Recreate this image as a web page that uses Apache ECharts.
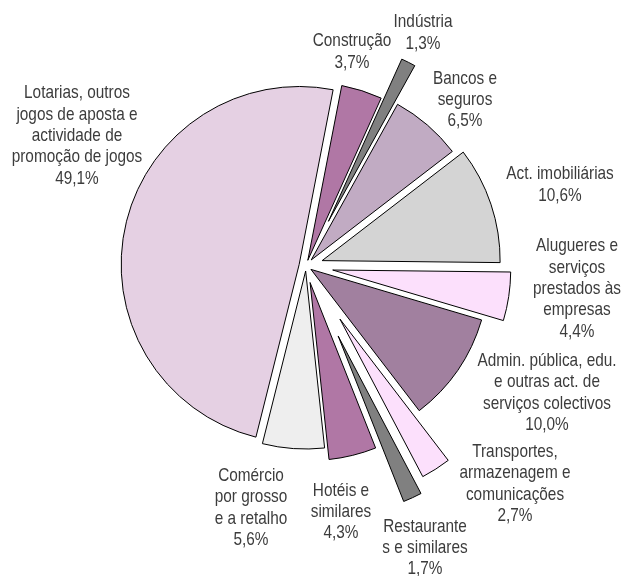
<!DOCTYPE html>
<html><head><meta charset="utf-8">
<script src="https://cdn.jsdelivr.net/npm/echarts@6/dist/echarts.min.js"></script>
<style>html,body{margin:0;padding:0;background:#fff}#c{width:622px;height:576px}</style>
</head><body><div id="c"></div>
<script>
const categories = ['Construção','Indústria','Bancos e\nseguros','Act. imobiliárias',
  'Alugueres e\nserviços\nprestados às\nempresas',
  'Admin. pública, edu.\ne outras act. de\nserviços colectivos',
  'Transportes,\narmazenagem e\ncomunicações','Restaurante\ns e similares',
  'Hotéis e\nsimilares','Comércio\npor grosso\ne a retalho',
  'Lotarias, outros\njogos de aposta e\nactividade de\npromoção de jogos'];
const values = [3.7, 1.3, 6.5, 10.6, 4.4, 10.0, 2.7, 1.7, 4.3, 5.6, 49.1];
const colors = ['#B077A5','#808080','#C1ABC3','#D4D4D4','#FCE0FC','#A1809F','#FCE0FC','#808080','#B077A5','#EEEEEE','#E5D0E3'];
const explode = [6, 50, 8, 17, 27, 6, 63, 77, 17, 5, 7];
const labelPos = [[352,52],[423,33],[465,100],[560,185],[577,289],[547,393],[515,484],[425,548],[341,512],[251,508],[77,136]];

const fmt = v => v.toFixed(1).replace('.', ',') + '%';

const series = categories.map((cat, i) => ({
  type: 'pie',
  center: [306, 266],
  radius: 178,
  startAngle: 79,
  clockwise: true,
  selectedMode: 'multiple',
  selectedOffset: explode[i],
  animation: false,
  avoidLabelOverlap: false,
  label: { show: false },
  labelLine: { show: false },
  emphasis: { disabled: true },
  data: categories.map((n, j) => ({
    name: n,
    value: values[j],
    selected: j === i,
    itemStyle: j === i ? { color: colors[j], borderColor: '#000', borderWidth: 1 } : { color: 'rgba(0,0,0,0)', borderWidth: 0 },
    select: { itemStyle: j === i ? { color: colors[j], borderColor: '#000', borderWidth: 1 } : { color: 'rgba(0,0,0,0)', borderWidth: 0 } }
  }))
}));

const graphic = categories.map((n, i) => ({
  type: 'text',
  x: labelPos[i][0],
  y: labelPos[i][1],
  scaleX: 0.83,
  silent: true,
  style: {
    text: n + '\n' + fmt(values[i]),
    font: "18.5px 'Liberation Sans', Arial, sans-serif",
    fill: '#3c3c3c',
    align: 'center',
    verticalAlign: 'middle',
    lineHeight: 21.3
  }
}));

const chart = echarts.init(document.getElementById('c'), null, { renderer: 'canvas' });
chart.setOption({ animation: false, backgroundColor: '#fff', series: series, graphic: graphic });
</script></body></html>
